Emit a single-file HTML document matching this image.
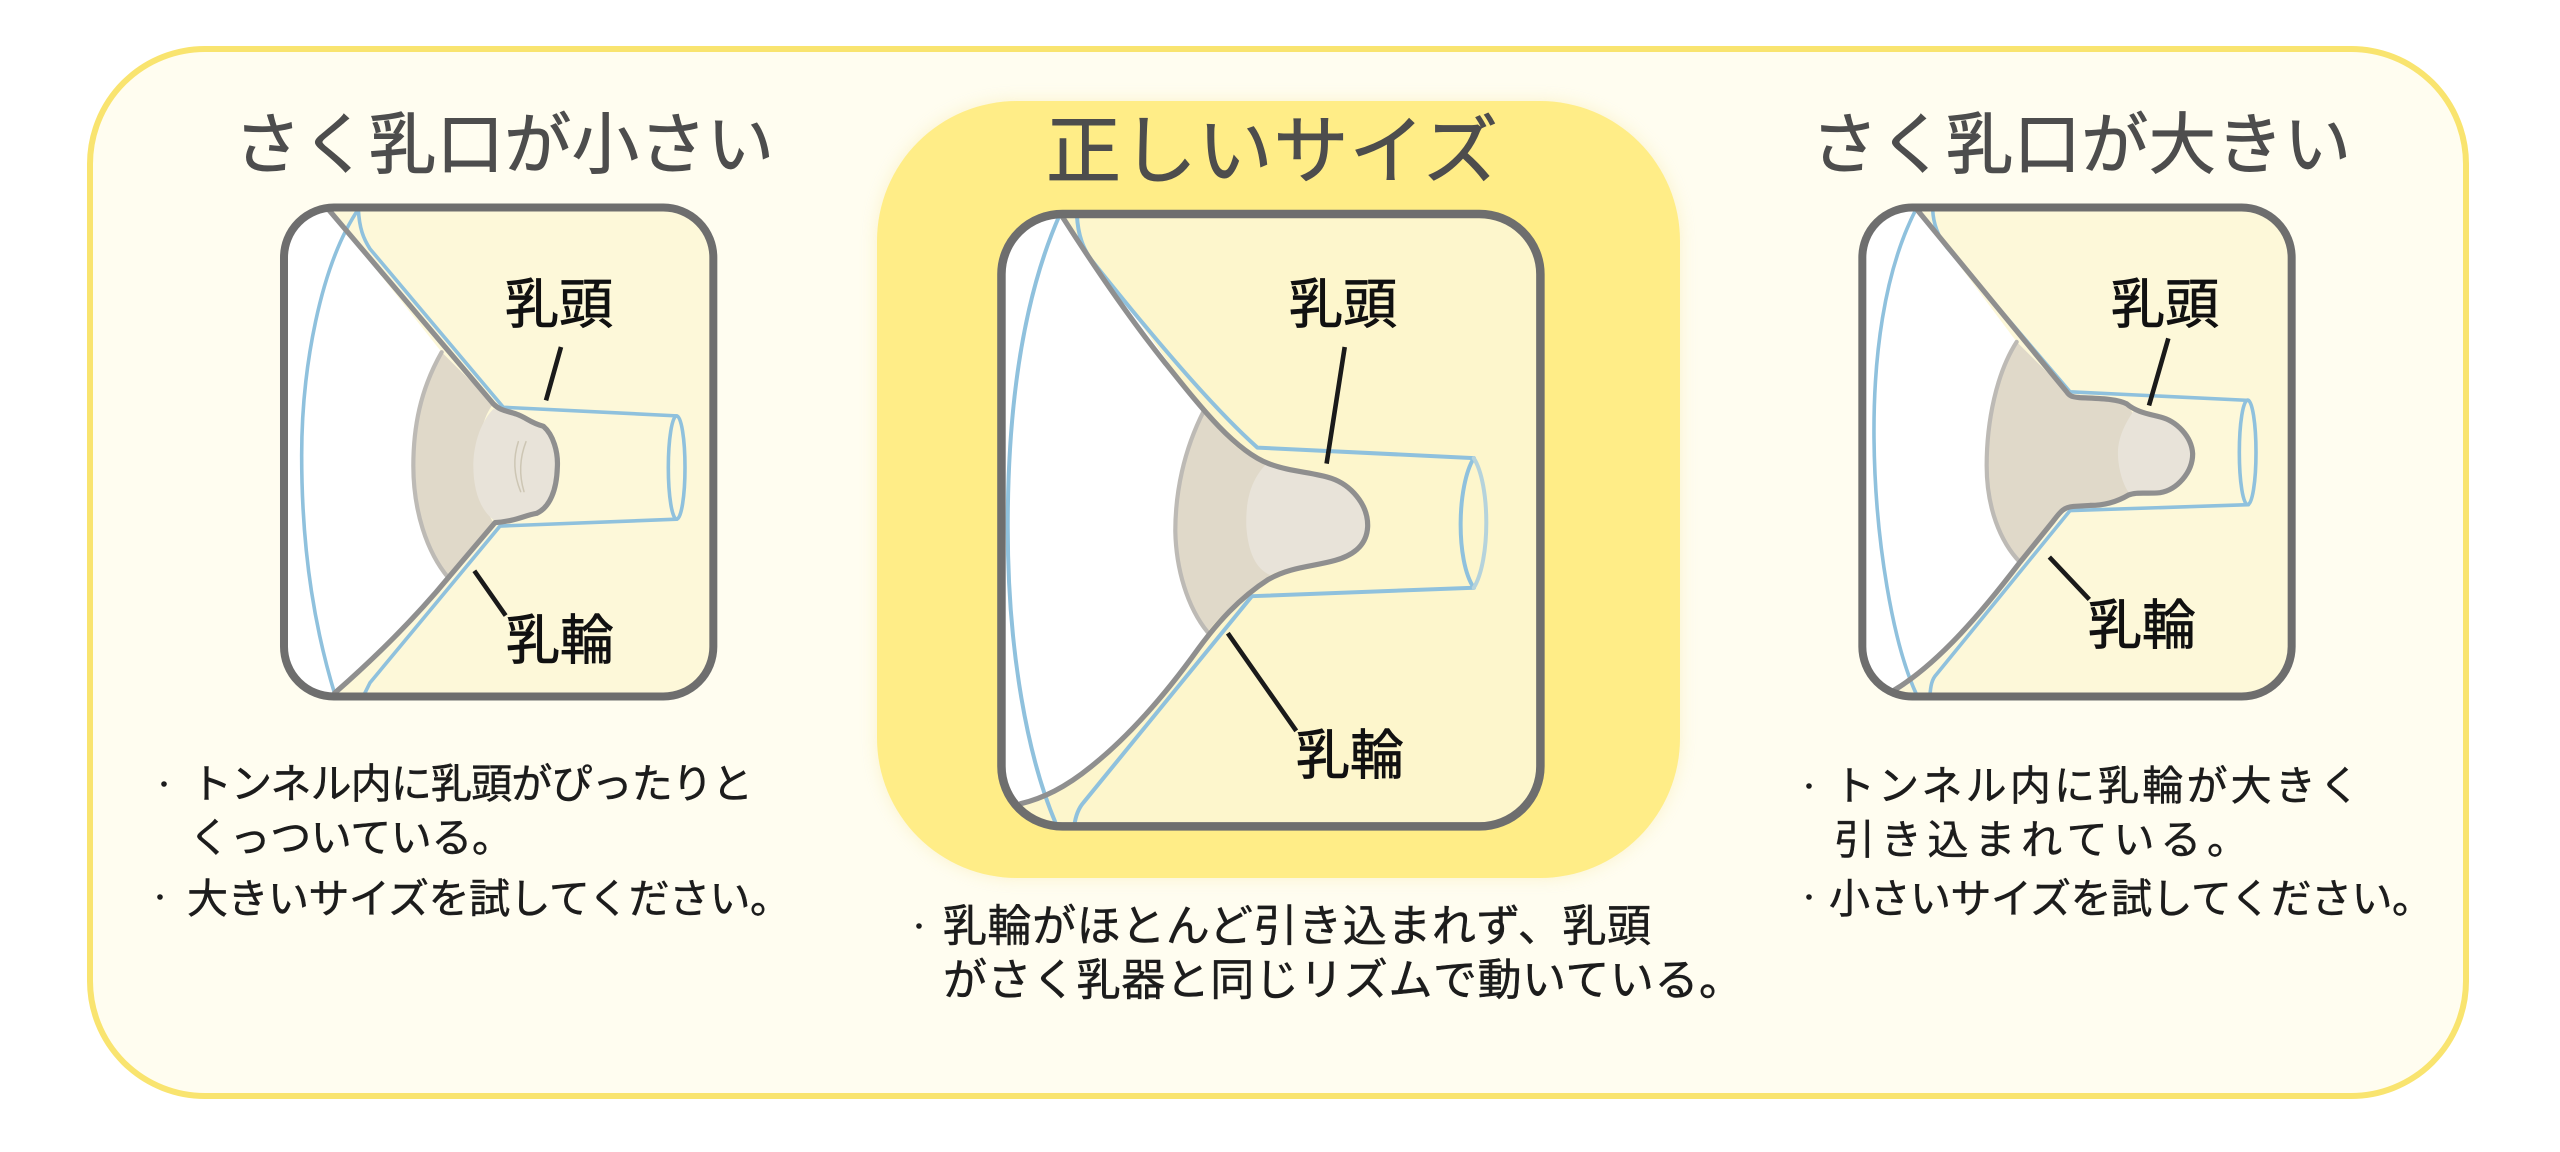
<!DOCTYPE html>
<html lang="ja">
<head>
<meta charset="utf-8">
<title>さく乳口のサイズ</title>
<style>
html,body{margin:0;padding:0;background:#fff;width:2560px;height:1152px;overflow:hidden}
svg{display:block}
text{font-family:"Liberation Sans","Noto Sans CJK JP",sans-serif}
.art *{vector-effect:non-scaling-stroke;stroke-linejoin:round;stroke-linecap:round}
.t{font-size:67px;fill:#4d4d4d;stroke:#4d4d4d;stroke-width:.9}
.l{font-size:54px;fill:#111;stroke:#111;stroke-width:.8}
.b{font-size:41px;fill:#1c1c1c;stroke:#1c1c1c;stroke-width:.5}
.bm{font-size:44px;fill:#1c1c1c;stroke:#1c1c1c;stroke-width:.5}
.blue{fill:none;stroke:#8fc1dd;stroke-width:3.6}
.grey{fill:none;stroke:#8f8f8f;stroke-width:5.2}
.edge{fill:none;stroke:#bdbab5;stroke-width:4.2}
.box{fill:none;stroke:#6e6e6e;stroke-width:8}
.lead{fill:none;stroke:#1a1a1a;stroke-width:4.6;stroke-linecap:butt!important}
.areola{fill:#e0d9c9}
.nip{fill:#e8e3d9}
</style>
</head>
<body>
<svg xmlns="http://www.w3.org/2000/svg" width="2560" height="1152" viewBox="0 0 2560 1152">
<defs>
<clipPath id="cl"><rect x="72" y="80" width="1288" height="1420" rx="150" ry="145"/></clipPath>
<clipPath id="cm"><rect x="58" y="57" width="1457" height="1455" rx="165" ry="143"/></clipPath>
<clipPath id="cr"><rect x="67" y="80" width="1288" height="1420" rx="150" ry="145"/></clipPath>
</defs>

<rect x="90" y="49" width="2376" height="1047" rx="115" ry="115" fill="#fffdf0" stroke="#f9e46f" stroke-width="6"/>
<rect x="877" y="101" width="803" height="777" rx="140" ry="140" fill="#ffed87" style="filter:drop-shadow(0 0 8px rgba(240,220,120,.3))"/>

<text class="t" x="234" y="168" textLength="540">さく乳口が小さい</text>
<text class="t" x="1046" y="177" textLength="452" style="font-size:75px">正しいサイズ</text>
<text class="t" x="1811" y="168" textLength="540">さく乳口が大きい</text>

<!-- LEFT -->
<g class="art" transform="translate(260,180) scale(.33333,.34435)">
  <rect x="72" y="80" width="1288" height="1420" rx="150" ry="145" fill="#fdf8d9"/>
  <g clip-path="url(#cl)">
    <path d="M60,70 L205,85 L545,500 L570,1155 C450,1290 330,1400 224,1490 L60,1510 Z" fill="#fff"/>
    <path class="areola" d="M545,500 L700,650 C640,720 640,900 700,995 L565,1155 C500,1080 460,960 460,830 C460,720 480,610 545,500 Z"/>
    <path class="edge" d="M545,500 C480,610 460,720 460,830 C460,960 500,1080 565,1155"/>
    <path class="nip" d="M700,665 C655,710 640,780 640,830 C640,900 660,960 705,990 C770,985 800,970 830,968 C870,950 890,900 892,835 C895,790 880,740 850,715 C810,705 800,690 770,680 C740,670 720,670 700,665 Z"/>
    <path d="M775,760 C758,810 763,860 782,905 M798,760 C778,810 778,860 792,905" fill="none" stroke="#cdc6b4" stroke-width="1.5"/>
    <path class="blue" d="M295,85 C180,250 125,550 125,800 C125,1100 170,1320 225,1495"/>
    <path class="blue" d="M295,85 C298,140 310,170 330,200 L730,660 L1250,685"/>
    <path class="blue" d="M312,1495 L330,1460 L720,1005 L1250,985"/>
    <ellipse class="blue" cx="1250" cy="835" rx="25" ry="150"/>
    <path class="grey" d="M205,85 L700,650 C720,670 740,670 770,680 C800,690 810,705 850,715 C880,740 895,790 892,835 C890,900 870,950 830,968 C790,975 770,990 705,995 L565,1155 C450,1290 330,1400 224,1490"/>
  </g>
  <rect class="box" x="72" y="80" width="1288" height="1420" rx="150" ry="145"/>
  <path class="lead" d="M903,485 L858,640 M643,1135 L737,1265"/>
</g>
<text class="l" x="505" y="323">乳頭</text>
<text class="l" x="506" y="659">乳輪</text>

<!-- MIDDLE -->
<g class="art" transform="translate(980,190) scale(.36990,.42092)">
  <rect x="58" y="57" width="1457" height="1455" rx="165" ry="143" fill="#fdf6cc"/>
  <g clip-path="url(#cm)">
    <path d="M40,40 L220,60 L605,525 L615,1050 C500,1200 400,1300 300,1370 C230,1420 170,1445 110,1458 L40,1530 Z" fill="#fff"/>
    <path class="areola" d="M605,525 C680,610 720,635 780,650 L785,915 C700,970 650,1010 615,1050 C560,990 530,900 528,810 C528,720 550,620 605,525 Z"/>
    <path class="edge" d="M605,525 C550,620 528,720 528,810 C530,900 560,990 615,1050"/>
    <path class="nip" d="M775,650 C730,690 718,740 720,800 C725,860 745,900 785,915 C840,890 900,890 960,880 C1000,870 1045,850 1048,800 C1050,745 1000,700 950,685 C900,670 840,670 775,650 Z"/>
    <path class="blue" d="M215,60 C120,250 75,500 75,800 C75,1100 130,1350 205,1505" style="stroke-width:4"/>
    <path class="blue" d="M262,60 C265,110 280,140 300,165 C450,330 620,510 750,612 L1335,637" style="stroke-width:4"/>
    <path class="blue" d="M255,1510 C258,1490 265,1470 280,1455 L735,965 L1335,945" style="stroke-width:4"/>
    <path class="blue" d="M1335,637 C1290,700 1285,880 1335,945" style="stroke-width:4"/>
    <path d="M1335,637 C1380,700 1380,880 1335,945" fill="none" stroke="#b5d3dc" stroke-width="4"/>
    <path class="grey" d="M220,60 C300,170 400,300 500,410 C600,520 690,620 780,650 C840,670 900,670 950,685 C1000,700 1050,745 1048,800 C1045,850 1000,870 960,880 C900,895 840,895 780,925 C700,970 640,1030 590,1090 C500,1200 400,1300 300,1370 C230,1420 170,1445 110,1458"/>
  </g>
  <rect class="box" x="58" y="57" width="1457" height="1455" rx="165" ry="143" style="stroke-width:8.5"/>
  <path class="lead" d="M986,373 L937,650 M670,1053 L855,1285"/>
</g>
<text class="l" x="1289" y="323">乳頭</text>
<text class="l" x="1296" y="774">乳輪</text>

<!-- RIGHT -->
<g class="art" transform="translate(1840,180) scale(.33333,.34435)">
  <rect x="67" y="80" width="1288" height="1420" rx="150" ry="145" fill="#fdf8d9"/>
  <g clip-path="url(#cr)">
    <path d="M50,70 L228,80 L530,470 L540,1110 C430,1250 300,1400 165,1480 L50,1510 Z" fill="#fff"/>
    <path class="areola" d="M530,470 L680,615 C690,630 700,630 720,632 C780,635 830,635 860,650 L880,680 L870,912 C830,935 790,945 750,945 L700,948 C670,950 660,965 640,990 L540,1110 C480,1050 440,950 440,830 C440,700 470,560 530,470 Z"/>
    <path class="edge" d="M530,470 C470,560 440,700 440,830 C440,950 480,1050 540,1110"/>
    <path class="nip" d="M880,672 C840,730 830,770 835,815 C840,860 855,895 870,912 C890,905 920,912 960,908 C1010,900 1058,850 1058,795 C1055,745 1010,700 960,688 C930,680 900,680 880,672 Z"/>
    <path class="blue" d="M228,85 C130,270 100,520 102,750 C105,1050 160,1350 230,1495"/>
    <path class="blue" d="M278,85 C280,130 295,165 320,195 L690,615 L1225,640"/>
    <path class="blue" d="M270,1495 C272,1470 275,1450 290,1435 L690,960 L1225,943"/>
    <ellipse class="blue" cx="1223" cy="791" rx="25" ry="152"/>
    <path class="grey" d="M230,85 L680,615 C690,630 700,630 720,632 C780,635 830,635 860,650 C890,675 930,680 960,688 C1010,700 1055,745 1058,795 C1058,850 1010,900 960,908 C920,912 890,905 865,915 C830,935 790,945 750,945 L700,948 C670,950 660,965 640,990 L540,1110 C430,1250 300,1400 165,1480"/>
  </g>
  <rect class="box" x="67" y="80" width="1288" height="1420" rx="150" ry="145"/>
  <path class="lead" d="M985,460 L927,655 M628,1095 L748,1218"/>
</g>
<text class="l" x="2111" y="323">乳頭</text>
<text class="l" x="2088" y="644">乳輪</text>

<!-- BODY TEXT -->
<circle cx="164" cy="784" r="2.8" fill="#1c1c1c"/>
<text class="b" x="191" y="798" textLength="562">トンネル内に乳頭がぴったりと</text>
<text class="b" x="189" y="852" textLength="324">くっついている。</text>
<circle cx="160" cy="897" r="2.8" fill="#1c1c1c"/>
<text class="b" x="187" y="913" textLength="604">大きいサイズを試してください。</text>

<circle cx="919" cy="926" r="2.8" fill="#1c1c1c"/>
<text class="bm" x="943" y="941" textLength="708">乳輪がほとんど引き込まれず、乳頭</text>
<text class="bm" x="943" y="995" textLength="800">がさく乳器と同じリズムで動いている。</text>

<circle cx="1809" cy="786" r="2.8" fill="#1c1c1c"/>
<text class="b" x="1834" y="800" textLength="526">トンネル内に乳輪が大きく</text>
<text class="b" x="1834" y="854" textLength="414">引き込まれている。</text>
<circle cx="1809" cy="897" r="2.8" fill="#1c1c1c"/>
<text class="b" x="1829" y="913" textLength="604">小さいサイズを試してください。</text>
</svg>
</body>
</html>
